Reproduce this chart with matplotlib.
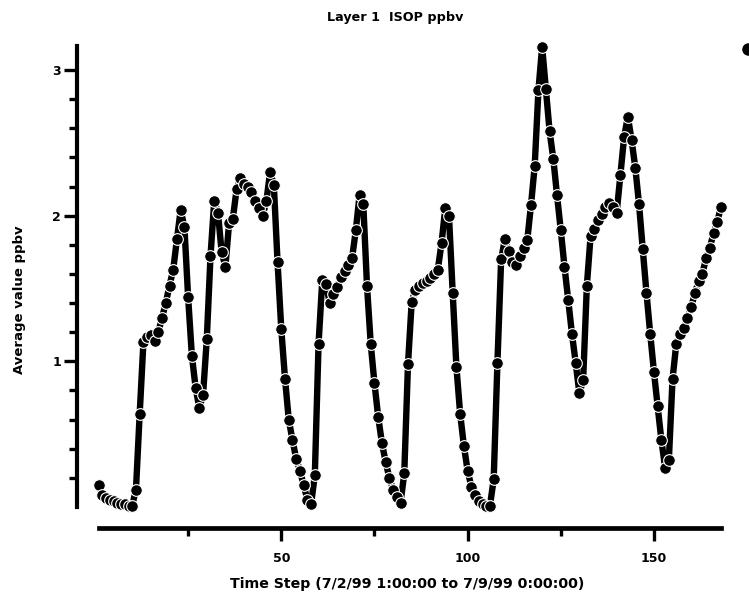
import matplotlib
matplotlib.use("Agg")
import matplotlib.pyplot as plt
from matplotlib.lines import Line2D
from matplotlib.ticker import FixedLocator, NullFormatter

# ---- data -------------------------------------------------------------
time_step = list(range(1, 169))
isop_ppbv = [
    0.15, 0.08, 0.06, 0.05, 0.04, 0.03, 0.02, 0.02, 0.01, 0.01,
    0.12, 0.64, 1.13, 1.17, 1.18, 1.14, 1.20, 1.30, 1.40, 1.52, 1.63, 1.84,
    2.04, 1.92, 1.44, 1.04, 0.82, 0.68, 0.77, 1.15, 1.72, 2.10, 2.02, 1.75,
    1.65, 1.95, 1.98, 2.18, 2.26, 2.22, 2.20, 2.16, 2.10, 2.05, 2.00, 2.10, 2.30,
    2.21, 1.68, 1.22, 0.88, 0.60, 0.46, 0.33, 0.25, 0.15, 0.05, 0.02,
    0.22, 1.12, 1.56, 1.53, 1.40, 1.46, 1.51, 1.58, 1.62, 1.66, 1.71, 1.90, 2.14, 2.08,
    1.52, 1.12, 0.85, 0.62, 0.44, 0.31, 0.20, 0.12, 0.07, 0.03,
    0.23, 0.98, 1.41, 1.49, 1.52, 1.54, 1.55, 1.57, 1.60, 1.63, 1.81, 2.05, 2.00, 1.47,
    0.96, 0.64, 0.42, 0.25, 0.14, 0.08, 0.04, 0.02, 0.01, 0.01,
    0.19, 0.99, 1.70, 1.84, 1.76, 1.68, 1.66, 1.72, 1.78, 1.83, 2.07, 2.34, 2.86, 3.16,
    2.87, 2.58, 2.39, 2.14, 1.90, 1.65, 1.42, 1.19, 0.99, 0.78, 0.87,
    1.52, 1.86, 1.91, 1.97, 2.01, 2.06, 2.09, 2.06, 2.02, 2.28, 2.54, 2.68,
    2.52, 2.33, 2.08, 1.77, 1.47, 1.19, 0.93, 0.69, 0.46, 0.27,
    0.32, 0.88, 1.12, 1.19, 1.23, 1.30, 1.37, 1.47, 1.55, 1.60, 1.71, 1.78, 1.88, 1.96, 2.06,
]
x_major_ticks = [50, 100, 150]
x_minor_ticks = [25, 75, 125]
y_major_ticks = [1, 2, 3]
y_minor_ticks = [0.2, 0.4, 0.6, 0.8, 1.2, 1.4, 1.6, 1.8, 2.2, 2.4, 2.6, 2.8]

title = "Layer 1  ISOP ppbv"
x_label = "Time Step (7/2/99 1:00:00 to 7/9/99 0:00:00)"
y_label = "Average value ppbv"

# ---- figure -----------------------------------------------------------
W, H = 749, 603
fig = plt.figure(figsize=(W / 100, H / 100), dpi=100)
plt.rcParams['font.family'] = ['DejaVu Sans']

left_px, right_px = 98.7, 721.0
bottom_px, top_px = 507.0, 46.0
ax = fig.add_axes([left_px / W, (H - bottom_px) / H,
                   (right_px - left_px) / W, (bottom_px - top_px) / H])

ax.plot(time_step, isop_ppbv, color='black', lw=4.6, marker='o', ms=8.4,
        mfc='black', mec='white', mew=0.8, clip_on=False, zorder=3,
        solid_joinstyle='round', solid_capstyle='round')

ax.set_xlim(1, 168)
ax.set_ylim(0, 3.165)

for s in ['top', 'right']:
    ax.spines[s].set_visible(False)
ax.spines['left'].set_position(('outward', 15.5))
ax.spines['bottom'].set_position(('outward', 14.8))
ax.spines['left'].set_linewidth(3.0)
ax.spines['bottom'].set_linewidth(3.4)

ax.xaxis.set_major_locator(FixedLocator(x_major_ticks))
ax.xaxis.set_minor_locator(FixedLocator(x_minor_ticks))
ax.yaxis.set_major_locator(FixedLocator(y_major_ticks))
ax.yaxis.set_minor_locator(FixedLocator(y_minor_ticks))
ax.xaxis.set_minor_formatter(NullFormatter())
ax.yaxis.set_minor_formatter(NullFormatter())

ax.tick_params(axis='both', which='major', direction='out', width=2.4,
               length=9.5, color='black', labelsize=9)
ax.tick_params(axis='both', which='minor', direction='out', width=2.4,
               length=5.5, color='black')
ax.tick_params(axis='x', which='major', pad=8)
ax.tick_params(axis='y', which='major', pad=2)
for lab in ax.get_xticklabels() + ax.get_yticklabels():
    lab.set_fontweight('bold')

fig.text(395 / W, 1 - 18 / H, title, ha='center', va='center',
         fontsize=9.2, fontweight='bold')
fig.text(407 / W, 1 - 584 / H, x_label, ha='center', va='center',
         fontsize=10.2, fontweight='bold')
fig.text(20 / W, 1 - 300 / H, y_label, ha='center', va='center',
         rotation=90, fontsize=9.5, fontweight='bold')

# partial marker at the top-right corner of the reference
fig.add_artist(Line2D([748 / W], [1 - 49 / H], transform=fig.transFigure,
                      marker='o', ms=8, color='black', lw=0))

fig.savefig('out.png', dpi=100)
